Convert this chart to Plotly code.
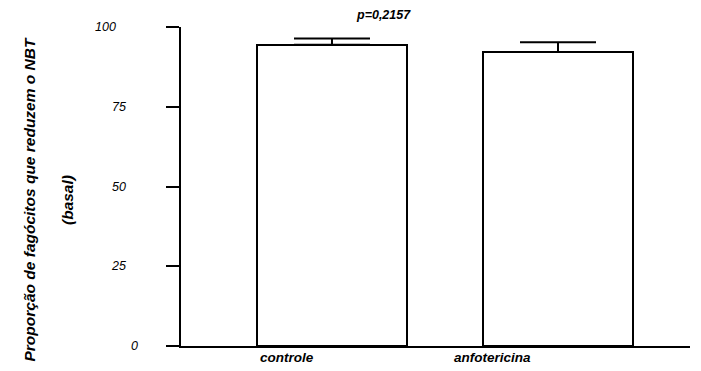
import plotly.graph_objects as go

# ---- data ----
categories = ["controle", "anfotericina"]
means = [94.4, 92.2]
errors_up = [2.0, 3.0]
y_ticks = [0, 25, 50, 75, 100]
y_tick_labels = ["0", "25", "50", "75", "100"]
p_text = "p=0,2157"
y_title_1 = "Proporção de fagócitos que reduzem o NBT"
y_title_2 = "(basal)"

# ---- layout geometry (pixels) ----
W, H = 701, 371
L, R, T, B = 181, 11, 27, 25
PW = W - L - R
PH = H - T - B

def px_x(p):
    return (p - L) / PW

def px_y(p):
    return (H - B - p) / PH

FONT = "Liberation Sans, Arial, sans-serif"
x_pos = list(range(len(categories)))

fig = go.Figure()
fig.add_trace(go.Bar(
    x=x_pos, y=means, width=0.664,
    marker=dict(color="white", line=dict(color="black", width=2)),
    error_y=dict(type="data", symmetric=False, array=errors_up,
                 arrayminus=[0] * len(errors_up),
                 color="black", thickness=2, width=38),
    showlegend=False, hoverinfo="skip",
))

annotations = []
# category labels (offset left of bar centers as in the reference)
cat_label_offsets = [-0.2, -0.288]
for xi, lab, off in zip(x_pos, categories, cat_label_offsets):
    annotations.append(dict(
        x=xi + off, xref="x", y=px_y(357), yref="paper",
        text=lab, showarrow=False, xanchor="center", yanchor="middle",
        font=dict(family=FONT, size=13.5, color="black", weight="bold", style="italic"),
    ))

# y tick labels
tick_right_px = {"0": 140, "25": 128, "50": 128, "75": 128, "100": 118}
for v, lab in zip(y_ticks, y_tick_labels):
    annotations.append(dict(
        x=px_x(tick_right_px[lab]), xref="paper", y=v, yref="y",
        text=lab, showarrow=False, xanchor="right", yanchor="middle",
        font=dict(family=FONT, size=12.5, color="black", style="italic"),
    ))

# p-value
annotations.append(dict(
    x=0.226, xref="x", y=px_y(14.5), yref="paper",
    text=p_text, showarrow=False, xanchor="center", yanchor="middle",
    font=dict(family=FONT, size=12.5, color="black", weight="bold", style="italic"),
))

# y title (two lines)
annotations.append(dict(
    x=px_x(28.5), xref="paper", y=px_y(200), yref="paper",
    text=y_title_1, textangle=-90, showarrow=False,
    xanchor="center", yanchor="middle",
    font=dict(family=FONT, size=15.5, color="black", weight="bold", style="italic"),
))
annotations.append(dict(
    x=px_x(67), xref="paper", y=px_y(200), yref="paper",
    text=y_title_2, textangle=-90, showarrow=False,
    xanchor="center", yanchor="middle",
    font=dict(family=FONT, size=15.5, color="black", weight="bold", style="italic"),
))

fig.update_layout(
    width=W, height=H,
    margin=dict(l=L, r=R, t=T, b=B, pad=0),
    paper_bgcolor="white", plot_bgcolor="white",
    xaxis=dict(range=[-0.668, 1.584], showline=True, linecolor="black", linewidth=2,
               showticklabels=False, ticks="", showgrid=False, zeroline=False,
               fixedrange=True),
    yaxis=dict(range=[0, 100], tickvals=y_ticks, showline=True, linecolor="black",
               linewidth=2, ticks="outside", ticklen=13, tickwidth=2, tickcolor="black",
               showticklabels=False, showgrid=False, zeroline=False, fixedrange=True),
    annotations=annotations,
    bargap=0,
)

fig.write_html("out.html")
